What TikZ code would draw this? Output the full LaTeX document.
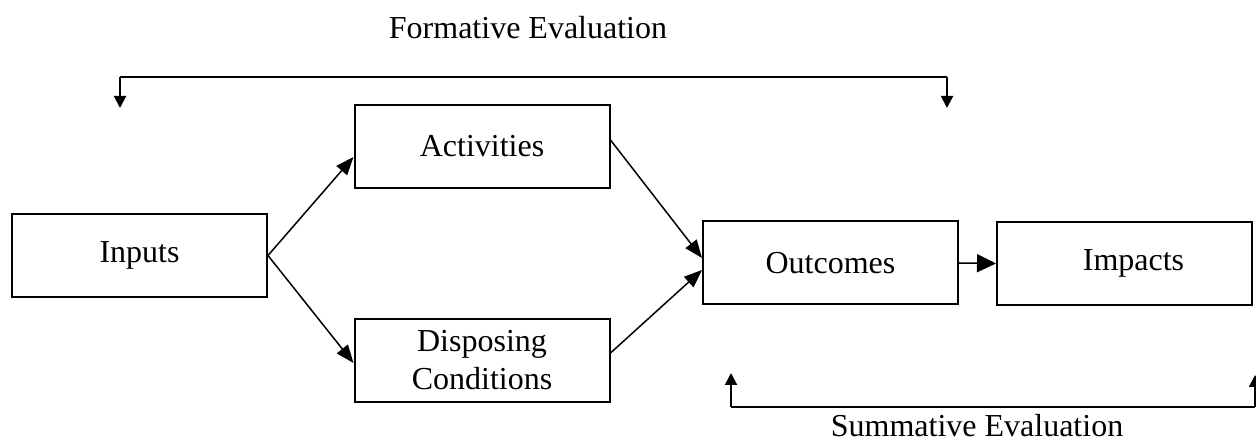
\documentclass[tikz,border=0pt]{standalone}
\usepackage{fontspec}
\setmainfont{Liberation Serif}
\usetikzlibrary{arrows.meta,calc}
\begin{document}
\begin{tikzpicture}[x=0.5pt,y=-0.5pt,
  box/.style={draw,line width=1pt,minimum width=127.5pt,minimum height=41.5pt,inner sep=0pt,align=center,font=\fontsize{16}{19}\selectfont},
  lbl/.style={inner sep=0pt,font=\fontsize{16}{19}\selectfont},
  conn/.style={line width=0.75pt,-{Triangle[length=9pt,width=7pt]}},
  bigconn/.style={line width=0.75pt,-{Triangle[length=9.5pt,width=9pt]}},
  fb/.style={line width=1pt},
  fbarrow/.style={line width=1pt,-{Triangle[length=6pt,width=6pt]}}]
\useasboundingbox (0,0) rectangle (1256,442);
\node[box] (in) at (139.5,255.5) {Inputs};
\node[box] (act) at (482,146.5) {Activities};
\node[box] (disp) at (482,360.5) {Disposing\\Conditions};
\node[box] (out) at (830.5,263) {Outcomes};
\node[box] (imp) at (1124.5,263.5) {\hspace*{9pt}Impacts};
\node[lbl] (fe) at (528,28) {Formative Evaluation};
\node[lbl] (se) at (977,426) {Summative Evaluation};
% main connectors
\draw[conn] (in.east) -- ($(act.west)+(0,10.5)$);
\draw[conn] (in.east) -- ($(disp.west)+(0,2.5)$);
\draw[conn] ($(act.east)+(0,-6.5)$) -- ($(out.west)+(0,-5)$);
\draw[conn] ($(disp.east)+(0,-7.5)$) -- ($(out.west)+(0,7)$);
\draw[bigconn] (out.east) -- (imp.west);
% formative evaluation bracket
\coordinate (fl) at (120,77);
\coordinate (fr) at (947,77);
\coordinate (flt) at (120,108);
\coordinate (frt) at (947,108);
\draw[fb] (fl) -- (fr);
\draw[fbarrow] (fl) -- (flt);
\draw[fbarrow] (fr) -- (frt);
% summative evaluation bracket
\coordinate (sl) at (731,407);
\coordinate (sr) at (1255,407);
\coordinate (slt) at (731,373);
\coordinate (srt) at (1255,375);
\draw[fb] (sl) -- (sr);
\draw[fbarrow] (sl) -- (slt);
\draw[fbarrow] (sr) -- (srt);
\end{tikzpicture}
\end{document}
